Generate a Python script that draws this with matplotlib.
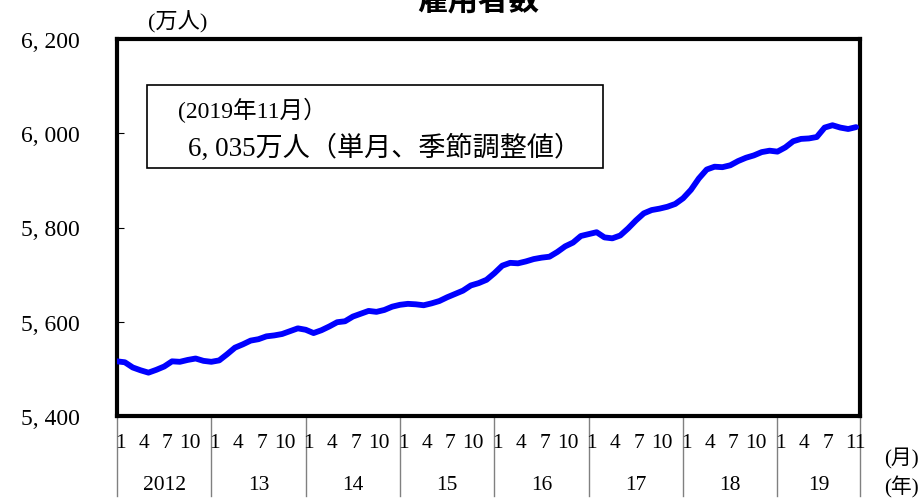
import numpy as np
import matplotlib
matplotlib.use('Agg')
import matplotlib.pyplot as plt
from matplotlib.patches import Rectangle

plt.rcParams['font.family'] = ['Liberation Serif', 'Noto Sans CJK JP', 'DejaVu Sans']

# monthly employees (10k persons), Jan 2012 - Nov 2019, seasonally adjusted
v2012 = [5516, 5514, 5503, 5497, 5492, 5498, 5505, 5516, 5515, 5519, 5522, 5517]
v2013 = [5515, 5518, 5531, 5545, 5552, 5560, 5563, 5569, 5571, 5574, 5580, 5586]
v2014 = [5583, 5576, 5582, 5590, 5599, 5601, 5611, 5617, 5623, 5621, 5625, 5632]
v2015 = [5636, 5638, 5637, 5635, 5639, 5644, 5652, 5659, 5666, 5677, 5682, 5689]
v2016 = [5703, 5719, 5725, 5724, 5728, 5733, 5736, 5738, 5748, 5760, 5768, 5782]
v2017 = [5786, 5790, 5779, 5777, 5783, 5798, 5815, 5830, 5837, 5840, 5844, 5850]
v2018 = [5862, 5880, 5904, 5923, 5929, 5928, 5932, 5941, 5948, 5953, 5960, 5963]
v2019 = [5961, 5970, 5983, 5988, 5989, 5992, 6012, 6017, 6012, 6009, 6013]

year_labels = ['2012', '13', '14', '15', '16', '17', '18', '19']
month_ticks = ['1', '4', '7', '10']
last_month_ticks = ['1', '4', '7', '11']
yticks = [5400, 5600, 5800, 6000, 6200]

values = v2012 + v2013 + v2014 + v2015 + v2016 + v2017 + v2018 + v2019
x = np.arange(len(values))

fig = plt.figure(figsize=(9.23, 5.02), dpi=100)
ax = fig.add_axes([117 / 923, 1 - 417 / 502, 743 / 923, 377 / 502])

ax.plot(x, values, color='#0000FF', lw=4.2, solid_capstyle='round', zorder=3)

ax.set_xlim(0, 94.5)
ax.set_ylim(5400, 6200)
ax.set_yticks(yticks)
ax.set_yticklabels(['{:,}'.format(t).replace(',', ', ') for t in yticks], fontsize=17)
ax.tick_params(axis='y', direction='in', length=5, width=0.8, pad=27)
ax.set_xticks([])
for s in ax.spines.values():
    s.set_linewidth(3)

# box with latest value
ax.add_patch(Rectangle((0.0404, 0.658), 0.6137, 0.22, transform=ax.transAxes,
                       fc='white', ec='black', lw=1.2, zorder=4))
ax.text(0.082, 0.812, '(2019年11月）', transform=ax.transAxes, fontsize=17,
        va='center', ha='left', zorder=5)
ax.text(0.0956, 0.714, '6, 035万人（単月、季節調整値）', transform=ax.transAxes, fontsize=19.5,
        va='center', ha='left', zorder=5)

# month / year table under the axis
tr = ax.get_xaxis_transform()
n_years = len(year_labels)
for i in range(n_years):
    start = i * 12
    ax.plot([start, start], [0, -0.212], transform=tr, color='#808080', lw=1, clip_on=False)
    labels = last_month_ticks if i == n_years - 1 else month_ticks
    offs = [0.4, 3.4, 6.4, 9.9] if i == n_years - 1 else [0.4, 3.4, 6.4, 9.3]
    for lab, o in zip(labels, offs):
        ax.text(start + o, -0.069, lab, transform=tr, ha='center', va='center', fontsize=15.5)
    end = min(start + 12, 94.5)
    ax.text((start + end) / 2, -0.183, year_labels[i], transform=tr, ha='center', va='center', fontsize=15.5)
ax.plot([94.5, 94.5], [0, -0.212], transform=tr, color='#808080', lw=1, clip_on=False)

fig.text(901 / 923, 1 - 459 / 502, '(月)', ha='center', va='center', fontsize=15)
fig.text(901 / 923, 1 - 487 / 502, '(年)', ha='center', va='center', fontsize=15)
fig.text(178 / 923, 1 - 22 / 502, '(万人)', ha='center', va='center', fontsize=16)
fig.text(478 / 923, 1 - 0 / 502, '雇用者数', ha='center', va='center', fontsize=22,
         fontweight='bold', family=['Noto Sans CJK JP'])

fig.savefig('out.png', dpi=100)
